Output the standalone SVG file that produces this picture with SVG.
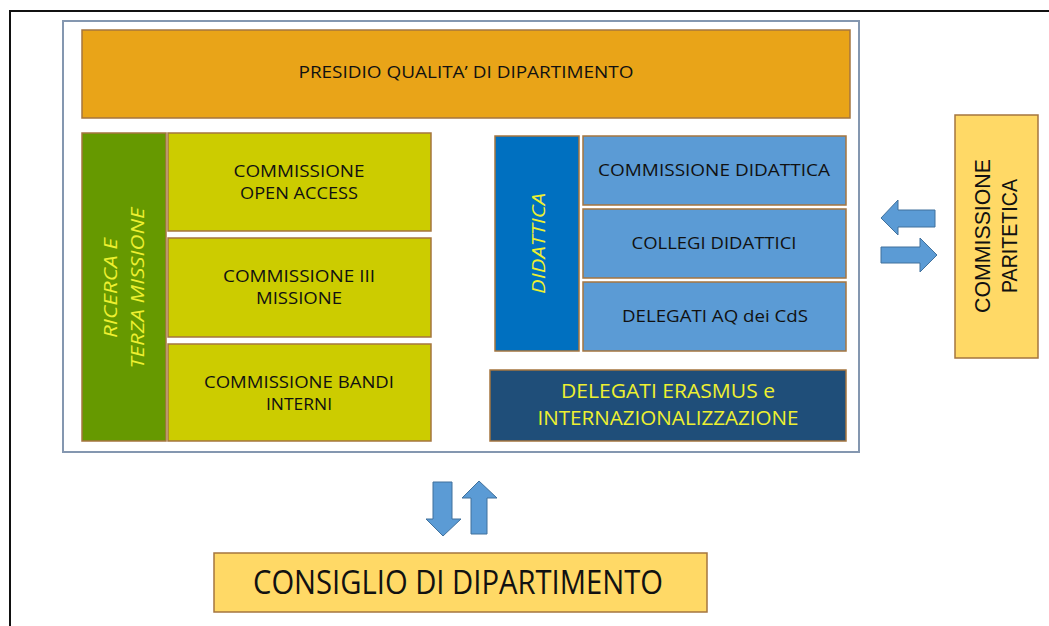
<svg xmlns="http://www.w3.org/2000/svg" width="1049" height="626" viewBox="0 0 1049 626">
<style>
.box{stroke:#A5753F;stroke-width:1.5}
.t{font-family:"Open Sans","Liberation Sans",sans-serif;font-size:17px;fill:#111;text-anchor:middle}
.ty{font-family:"Open Sans","Liberation Sans",sans-serif;fill:#EEF030;text-anchor:middle}
.arr{fill:#5B9BD5;stroke:#41719C;stroke-width:1}
</style>
<rect width="1049" height="626" fill="#fff"/>
<path d="M10,626 V11 H1049" fill="none" stroke="#111" stroke-width="2"/>
<rect x="63" y="21" width="796" height="431" fill="#fff" stroke="#8497B0" stroke-width="2"/>
<g id="presidio">
<rect class="box" x="82" y="30" width="768" height="88" fill="#E9A418"/>
<text class="t" x="466" y="78" textLength="335" lengthAdjust="spacingAndGlyphs">PRESIDIO QUALITA’ DI DIPARTIMENTO</text>
</g>
<g id="ricerca">
<rect class="box" x="82" y="133" width="84" height="308" fill="#669900"/>
<text class="ty" font-style="italic" font-size="19" transform="translate(117,288) rotate(-90)" textLength="100" lengthAdjust="spacingAndGlyphs">RICERCA E</text>
<text class="ty" font-style="italic" font-size="19" transform="translate(144,288) rotate(-90)" textLength="161" lengthAdjust="spacingAndGlyphs">TERZA MISSIONE</text>
</g>
<g id="open-access">
<rect class="box" x="168" y="133" width="263" height="98" fill="#CCCC00"/>
<text class="t" x="299" y="177" textLength="131" lengthAdjust="spacingAndGlyphs">COMMISSIONE</text>
<text class="t" x="299" y="199" textLength="118" lengthAdjust="spacingAndGlyphs">OPEN ACCESS</text>
</g>
<g id="terza-missione">
<rect class="box" x="168" y="238" width="263" height="99" fill="#CCCC00"/>
<text class="t" x="299" y="282" textLength="152" lengthAdjust="spacingAndGlyphs">COMMISSIONE III</text>
<text class="t" x="299" y="304" textLength="86" lengthAdjust="spacingAndGlyphs">MISSIONE</text>
</g>
<g id="bandi">
<rect class="box" x="168" y="344" width="263" height="97" fill="#CCCC00"/>
<text class="t" x="299" y="388" textLength="190" lengthAdjust="spacingAndGlyphs">COMMISSIONE BANDI</text>
<text class="t" x="299" y="410" textLength="66" lengthAdjust="spacingAndGlyphs">INTERNI</text>
</g>
<g id="didattica">
<rect class="box" x="495" y="136" width="84" height="215" fill="#0070C0"/>
<text class="ty" font-style="italic" font-size="19" transform="translate(545,243.5) rotate(-90)" textLength="101" lengthAdjust="spacingAndGlyphs">DIDATTICA</text>
</g>
<g id="commissione-didattica">
<rect class="box" x="583" y="136" width="263" height="69" fill="#5B9BD5"/>
<text class="t" x="714" y="176" textLength="232" lengthAdjust="spacingAndGlyphs">COMMISSIONE DIDATTICA</text>
</g>
<g id="collegi">
<rect class="box" x="583" y="209" width="263" height="69" fill="#5B9BD5"/>
<text class="t" x="714" y="249" textLength="165" lengthAdjust="spacingAndGlyphs">COLLEGI DIDATTICI</text>
</g>
<g id="delegati-aq">
<rect class="box" x="583" y="282" width="263" height="69" fill="#5B9BD5"/>
<text class="t" x="715" y="322" textLength="186" lengthAdjust="spacingAndGlyphs">DELEGATI AQ dei CdS</text>
</g>
<g id="erasmus">
<rect class="box" x="490" y="370" width="356" height="71" fill="#1F4E79"/>
<text class="ty" font-size="20" x="668" y="398" textLength="214" lengthAdjust="spacingAndGlyphs">DELEGATI ERASMUS e</text>
<text class="ty" font-size="20" x="668" y="425" textLength="261" lengthAdjust="spacingAndGlyphs">INTERNAZIONALIZZAZIONE</text>
</g>
<g id="paritetica">
<rect class="box" x="955" y="115" width="83" height="243" fill="#FFD966"/>
<text class="t" style="font-size:22px;font-family:'Liberation Sans',sans-serif" transform="translate(990,236) rotate(-90)" textLength="154" lengthAdjust="spacingAndGlyphs">COMMISSIONE</text>
<text class="t" style="font-size:22px;font-family:'Liberation Sans',sans-serif" transform="translate(1017,236) rotate(-90)" textLength="114" lengthAdjust="spacingAndGlyphs">PARITETICA</text>
</g>
<g id="consiglio">
<rect class="box" x="214" y="553" width="493" height="59" fill="#FFD966"/>
<text class="t" style="font-size:32px" x="458" y="594" textLength="410" lengthAdjust="spacingAndGlyphs">CONSIGLIO DI DIPARTIMENTO</text>
</g>
<g id="connectors">
<path class="arr" d="M881,218 L898,200 L898,210 L935,210 L935,227 L898,227 L898,235 Z"/>
<path class="arr" d="M937,255 L920,238 L920,247 L881,247 L881,263 L920,263 L920,272 Z"/>
<path class="arr" d="M443,536 L426,519 L433,519 L433,482 L452,482 L452,519 L461,519 Z"/>
<path class="arr" d="M479,481 L462,498 L471,498 L471,534 L487,534 L487,498 L497,498 Z"/>
</g>
</svg>
